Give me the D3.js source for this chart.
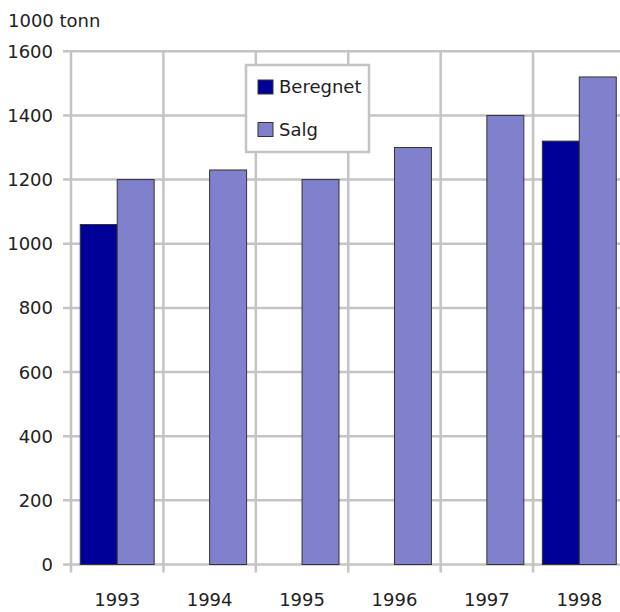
<!DOCTYPE html>
<html lang="no">
<head>
	<meta charset="UTF-8"/>
	<title>Beregnet og salg, 1000 tonn</title>
	<script src="https://d3js.org/d3.v7.min.js"></script>
	<style>
		body { margin: 0; background: #fff; }
		text { font-family: "DejaVu Sans", sans-serif; font-size: 18px; fill: #222; }
	</style>
</head>
<body>
	<script>
		var w = 620;
		var h = 612;

		// data
		var years = ["1993", "1994", "1995", "1996", "1997", "1998"];
		var seriesNames = ["Beregnet", "Salg"];
		var beregnet = [1060, null, null, null, null, 1320];
		var salg = [1200, 1230, 1200, 1300, 1400, 1520];
		var yTicks = [0, 200, 400, 600, 800, 1000, 1200, 1400, 1600];
		var colors = ["#000099", "#8080cc"];

		// plot edges (window.top is reserved, so use other names)
		var plotLeft = 71, plotRight = 625.5, plotTop = 51.3, plotBottom = 564.5;
		var gridColor = "#c4c4c4";

		// band scale for the years, inner band scale for the two series
		var xScale = d3.scaleBand()
						.domain(years)
						.range([plotLeft, plotRight])
						.paddingInner(0.2)
						.paddingOuter(0.1);

		var xInner = d3.scaleBand()
						.domain(seriesNames)
						.range([0, xScale.bandwidth()]);

		var yScale = d3.scaleLinear()
						.domain([0, 1600])
						.range([plotBottom, plotTop]);

		var svg = d3.select("body")
					.append("svg")
					.attr("width", w)
					.attr("height", h);

		var step = xScale.step();

		// horizontal gridlines (with the little tick stubs on the left)
		svg.selectAll("line.hgrid")
			.data(yTicks)
			.enter()
			.append("line")
			.attr("class", "hgrid")
			.attr("x1", plotLeft - 8)
			.attr("x2", plotRight)
			.attr("y1", function(d) { return yScale(d); })
			.attr("y2", function(d) { return yScale(d); })
			.attr("stroke", gridColor)
			.attr("stroke-width", 2.5);

		// vertical gridlines at the category borders
		var borders = d3.range(years.length + 1);
		svg.selectAll("line.vgrid")
			.data(borders)
			.enter()
			.append("line")
			.attr("class", "vgrid")
			.attr("x1", function(i) { return plotLeft + i * step; })
			.attr("x2", function(i) { return plotLeft + i * step; })
			.attr("y1", plotTop)
			.attr("y2", plotBottom + 8)
			.attr("stroke", gridColor)
			.attr("stroke-width", 2.5);

		// y labels
		svg.selectAll("text.ylab")
			.data(yTicks)
			.enter()
			.append("text")
			.attr("class", "ylab")
			.attr("x", 53)
			.attr("y", function(d) { return yScale(d); })
			.attr("dy", "0.36em")
			.attr("text-anchor", "end")
			.text(function(d) { return d; });

		svg.append("text")
			.attr("x", 8)
			.attr("y", 27)
			.text("1000 tonn");

		// x labels
		svg.selectAll("text.xlab")
			.data(years)
			.enter()
			.append("text")
			.attr("class", "xlab")
			.attr("x", function(d) { return xScale(d) + xScale.bandwidth() / 2; })
			.attr("y", 606)
			.attr("text-anchor", "middle")
			.text(function(d) { return d; });

		// bars
		var rows = [];
		years.forEach(function(y, i) {
			if (beregnet[i] != null) rows.push({ year: y, s: 0, v: beregnet[i] });
			if (salg[i] != null) rows.push({ year: y, s: 1, v: salg[i] });
		});

		svg.selectAll("rect.bar")
			.data(rows)
			.enter()
			.append("rect")
			.attr("class", "bar")
			.attr("x", function(d) { return xScale(d.year) + xInner(seriesNames[d.s]); })
			.attr("y", function(d) { return yScale(d.v); })
			.attr("width", xInner.bandwidth())
			.attr("height", function(d) { return plotBottom - yScale(d.v); })
			.attr("fill", function(d) { return colors[d.s]; })
			.attr("stroke", "#333")
			.attr("stroke-width", 1);

		// legend
		var legend = svg.append("g");
		legend.append("rect")
			.attr("x", 246)
			.attr("y", 65)
			.attr("width", 123)
			.attr("height", 87)
			.attr("fill", "#fff")
			.attr("stroke", gridColor)
			.attr("stroke-width", 2.5);

		var items = legend.selectAll("g.item")
			.data(seriesNames)
			.enter()
			.append("g")
			.attr("class", "item")
			.attr("transform", function(d, i) { return "translate(258," + (80 + i * 42.5) + ")"; });

		items.append("rect")
			.attr("width", 15)
			.attr("height", 14)
			.attr("fill", function(d, i) { return colors[i]; })
			.attr("stroke", "#333")
			.attr("stroke-width", 1);

		items.append("text")
			.attr("x", 21)
			.attr("y", 7)
			.attr("dy", "0.36em")
			.text(function(d) { return d; });
	</script>
</body>
</html>
